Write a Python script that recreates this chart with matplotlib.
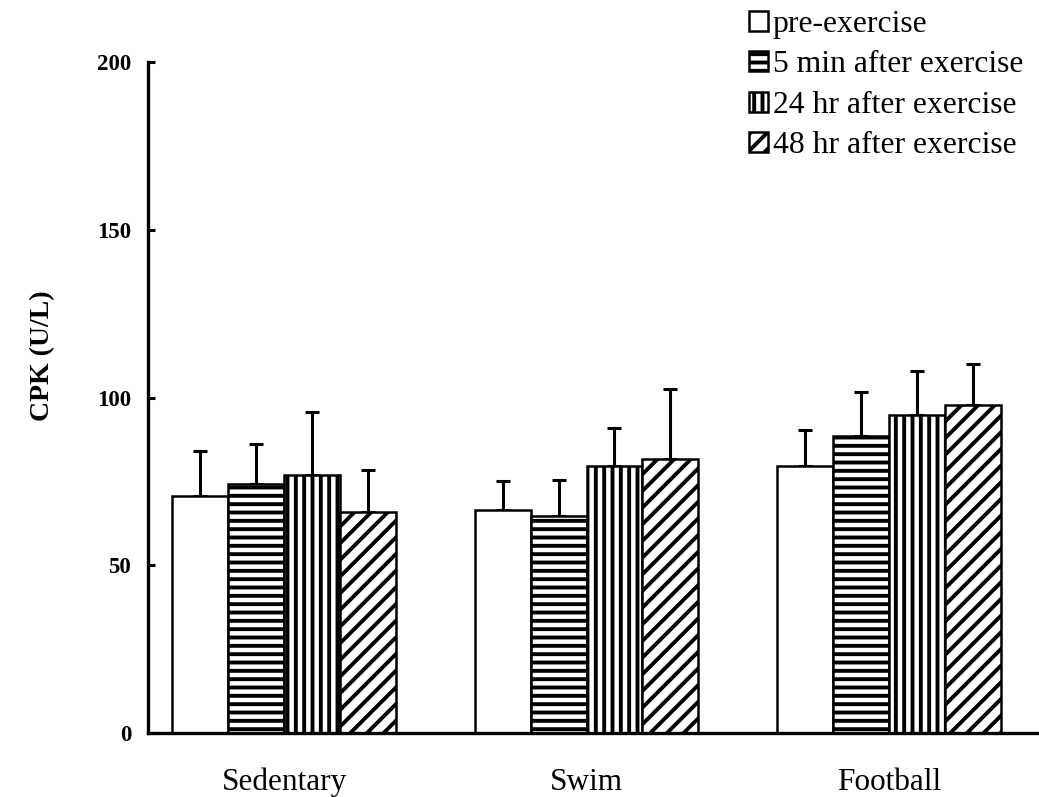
"""
CPK levels by group and time point
"""

import matplotlib.pyplot as plt
import numpy as np

plt.rcParams['font.family'] = ['Liberation Serif', 'DejaVu Serif']
plt.rcParams['hatch.linewidth'] = 2.8
plt.rcParams['hatch.color'] = 'black'

groups = ['Sedentary', 'Swim', 'Football']
series = ['pre-exercise', '5 min after exercise', '24 hr after exercise', '48 hr after exercise']
hatches = ['', '--', '||', '//']

# mean CPK (U/L) per group, one list per time point
pre_mean = [70.7, 66.4, 79.7]
min5_mean = [74.3, 64.8, 88.4]
hr24_mean = [76.8, 79.7, 94.7]
hr48_mean = [65.8, 81.8, 97.9]

# upper error (SD)
pre_err = [13.3, 8.7, 10.5]
min5_err = [11.8, 10.6, 13.2]
hr24_err = [18.8, 11.1, 13.3]
hr48_err = [12.6, 20.6, 12.1]

means = [pre_mean, min5_mean, hr24_mean, hr48_mean]
errs = [pre_err, min5_err, hr24_err, hr48_err]

fig = plt.figure(figsize=(10.39, 7.97), dpi=100)
ax = fig.add_axes([0.1424, 0.0803, 0.8576, 0.8419])

x = np.arange(len(groups))
w = 0.185
for i, (label, m, e, h) in enumerate(zip(series, means, errs, hatches)):
    pos = x + (i - 1.5) * w
    ax.errorbar(pos, m, yerr=[np.zeros(len(e)), e], fmt='none', ecolor='black',
                elinewidth=2.2, capsize=5, capthick=2.2, zorder=1)
    ax.bar(pos, m, width=w, color='white', edgecolor='black', linewidth=1.8,
           hatch=h, label=label, zorder=2)

ax.set_xlim(-0.45, 2.496)
ax.set_ylim(0, 200)
ax.set_yticks([0, 50, 100, 150, 200])
ax.set_xticks(x)
ax.set_xticklabels(groups, fontsize=22.5)
ax.tick_params(axis='x', length=0, pad=25)
ax.tick_params(axis='y', direction='in', length=5, width=2.2, pad=12, labelsize=16.5)
for t in ax.get_yticklabels():
    t.set_fontweight('bold')

ax.set_ylabel('CPK (U/L)', fontsize=20, fontweight='bold')
ax.yaxis.set_label_coords(-0.104, 0.563)

ax.spines['top'].set_visible(False)
ax.spines['right'].set_visible(False)
ax.spines['left'].set_linewidth(2.4)
ax.spines['bottom'].set_linewidth(2.4)
ax.spines['bottom'].set_capstyle('projecting')

ax.legend(loc='upper left', bbox_to_anchor=(749 / 1039, 1 - 10 / 797),
          bbox_transform=fig.transFigure, frameon=False, fontsize=22.8,
          handlelength=0.6, handleheight=0.6, handletextpad=0.15,
          labelspacing=0.36, borderpad=0, borderaxespad=0)

plt.savefig('out.png', dpi=100)
plt.close()
